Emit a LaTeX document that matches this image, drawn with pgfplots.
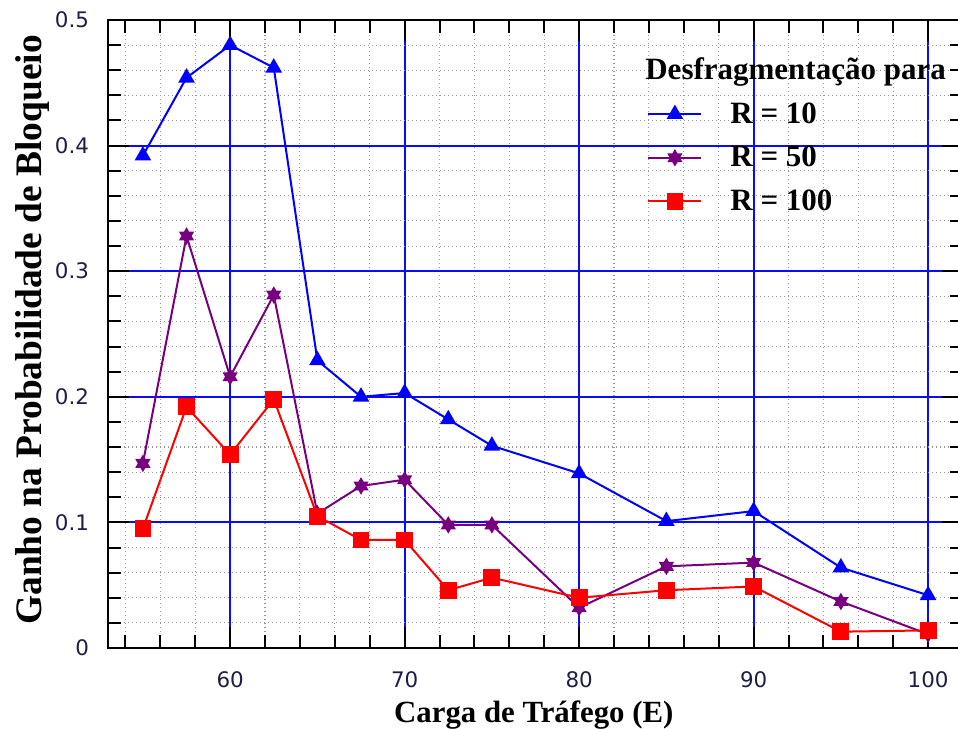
\documentclass[border=0pt]{standalone}
\usepackage{pgfplots}
\pgfplotsset{compat=1.18}
\usepackage{fontspec}
\setmainfont{Liberation Serif}
\newfontfamily\tickfont{DejaVu Sans}

\definecolor{serieblue}{RGB}{0,0,255}
\definecolor{seriepurple}{RGB}{120,0,128}
\definecolor{seriered}{RGB}{255,0,0}
\definecolor{gridblue}{RGB}{10,10,255}
\definecolor{ticktext}{RGB}{30,30,70}
\definecolor{minorgrid}{RGB}{150,150,150}

% filled six-pointed star (two overlapping triangles)
\pgfdeclareplotmark{hexstar}{%
  \pgfpathmoveto{\pgfqpointpolar{90}{\pgfplotmarksize}}%
  \pgfpathlineto{\pgfqpointpolar{210}{\pgfplotmarksize}}%
  \pgfpathlineto{\pgfqpointpolar{330}{\pgfplotmarksize}}%
  \pgfpathclose
  \pgfpathmoveto{\pgfqpointpolar{270}{\pgfplotmarksize}}%
  \pgfpathlineto{\pgfqpointpolar{30}{\pgfplotmarksize}}%
  \pgfpathlineto{\pgfqpointpolar{150}{\pgfplotmarksize}}%
  \pgfpathclose
  \pgfusepathqfillstroke}

\begin{document}
\begin{tikzpicture}
\begin{axis}[
  name=ax,
  scale only axis, width=427.5pt, height=314pt,
  xmin=53, xmax=102, ymin=0, ymax=0.5,
  xtick={60,70,80,90,100},
  ytick={0,0.1,0.2,0.3,0.4,0.5},
  minor xtick={54,56,58,62,64,66,68,72,74,76,78,82,84,86,88,92,94,96,98},
  minor ytick={0.02,0.04,0.06,0.08,0.12,0.14,0.16,0.18,0.22,0.24,0.26,0.28,0.32,0.34,0.36,0.38,0.42,0.44,0.46,0.48},
  tick align=inside,
  major tick length=10.5pt, minor tick length=6.5pt,
  every tick/.style={black, line width=1pt},
  grid=both,
  major grid style={draw=gridblue, line width=1pt},
  minor grid style={draw=minorgrid, line width=0.55pt, dash pattern=on 0.6pt off 1.4pt},
  axis line style={black, line width=1.2pt},
  /pgf/number format/assume math mode=true,
  tick label style={font=\tickfont\fontsize{10.7}{12}\selectfont, text=ticktext},
  yticklabel style={xshift=-6pt},
  xticklabel style={yshift=-8.5pt},
  every axis x label/.style={at={(axis description cs:0.498,-0.1194)}, anchor=base},
  every axis y label/.style={at={(axis description cs:-0.0772,0.5064)}, rotate=90, anchor=base},
  xlabel style={font=\bfseries\fontsize{15.4}{18}\selectfont},
  ylabel style={font=\bfseries\fontsize{18.7}{22}\selectfont},
  xlabel={Carga de Tráfego (E)},
  ylabel={Ganho na Probabilidade de Bloqueio},
  legend style={draw=none, fill=none, at={(rel axis cs:0.6304,1)}, anchor=north west,
    yshift=-41pt, font=\bfseries\fontsize{15.5}{18}\selectfont,
    inner sep=0pt, row sep=10pt, column sep=14pt, nodes={inner sep=0pt}},
  legend cell align=left,
  legend image code/.code={\draw[mark repeat=2,mark phase=2] plot coordinates {(0pt,0pt) (13.25pt,0pt) (26.5pt,0pt)};},
]

% R = 10
\addplot[serieblue, line width=1pt, mark=triangle*, mark size=3.8pt] coordinates {
  (55,0.392) (57.5,0.454) (60,0.480) (62.5,0.462) (65,0.229) (67.5,0.200)
  (70,0.203) (72.5,0.182) (75,0.161) (80,0.139) (85,0.101) (90,0.109)
  (95,0.064) (100,0.042)
};
\addlegendentry{R = 10}

% R = 50
\addplot[seriepurple, line width=1pt, mark=hexstar, mark size=3.4pt] coordinates {
  (55,0.147) (57.5,0.328) (60,0.216) (62.5,0.281) (65,0.107) (67.5,0.129)
  (70,0.134) (72.5,0.098) (75,0.098) (80,0.032) (85,0.065) (90,0.068)
  (95,0.037) (100,0.011)
};
\addlegendentry{R = 50}

% R = 100
\addplot[seriered, line width=1pt, mark=square*, mark size=3.7pt] coordinates {
  (55,0.095) (57.5,0.192) (60,0.154) (62.5,0.198) (65,0.105) (67.5,0.086)
  (70,0.086) (72.5,0.046) (75,0.056) (80,0.040) (85,0.046) (90,0.049)
  (95,0.013) (100,0.014)
};
\addlegendentry{R = 100}

\node[anchor=base west, font=\bfseries\fontsize{15.5}{18}\selectfont, inner sep=0pt]
  at (rel axis cs:0.628,0.9045) {Desfragmentação para};
\end{axis}
\pgfresetboundingbox
\path[use as bounding box] ([xshift=-54pt,yshift=-40.5pt]ax.south west)
  rectangle ([xshift=-2.5pt,yshift=10pt]ax.north east);
\end{tikzpicture}
\end{document}
